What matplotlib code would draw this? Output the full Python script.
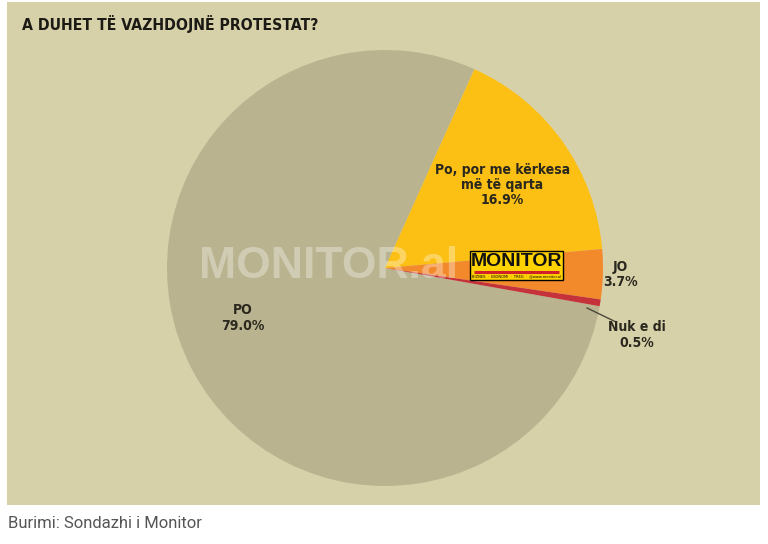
import numpy as np
import matplotlib.pyplot as plt
from matplotlib.patches import Rectangle

# data
categories = ["PO", "Po, por me kërkesa\nmë të qarta", "JO", "Nuk e di"]
values = [79.0, 16.9, 3.7, 0.5]
colors = ["#b9b38f", "#fcc014", "#f2892b", "#c6323a"]

title = "A DUHET TË VAZHDOJNË PROTESTAT?"
source = "Burimi: Sondazhi i Monitor"

BG = "#d7d1aa"
TXT = "#2a281e"
NARROW = ["DejaVu Sans"]

W, H = 768, 544
fig = plt.figure(figsize=(W / 100, H / 100), dpi=100)
fig.patch.set_facecolor("white")
ax = fig.add_axes([0, 0, 1, 1])

# beige panel
ax.add_patch(Rectangle((7, 39), 753, 503, facecolor=BG, edgecolor="none", zorder=0))

cx, cy, r = 385, 276, 218
wedges, _ = ax.pie(values, colors=colors, startangle=-10.1, counterclock=False,
                   center=(cx, cy), radius=r, frame=True,
                   wedgeprops=dict(linewidth=0))
ax.set_xlim(0, W)
ax.set_ylim(0, H)
ax.axis("off")
ax.set_aspect("equal")

# labels at each wedge's mid angle
label_r = [None, 0.66, 1.08, 1.20]
for i, w in enumerate(wedges):
    mid = np.deg2rad((w.theta1 + w.theta2) / 2)
    txt = f"{categories[i]}\n{values[i]:.1f}%"
    if i == 0:
        x, y = 243, 544 - 318
    else:
        x = cx + label_r[i] * r * np.cos(mid)
        y = cy + label_r[i] * r * np.sin(mid)
    if i == 3:
        x, y = 637, 544 - 335
        # leader line
        a0 = np.deg2rad(-11.2)
        ax.plot([cx + 0.945 * r * np.cos(a0), 616], [cy + 0.945 * r * np.sin(a0), 544 - 322],
                color="#4a4838", lw=1.0, zorder=3)
    ax.text(x, y, txt, ha="center", va="center", fontsize=10, color=TXT,
            family=NARROW, fontweight="bold", fontstretch="condensed",
            linespacing=1.1, zorder=4)

# watermark
ax.text(329, 277, "MONITOR.al", ha="center", va="center", fontsize=32,
        family=["Liberation Sans", "DejaVu Sans"], fontweight="bold",
        color="white", alpha=0.33, zorder=5)

# logo box
ax.add_patch(Rectangle((470, 264), 93, 29, facecolor="#ffd200", edgecolor="black",
                       lw=1.0, zorder=6))
ax.text(516.5, 282.5, "MONITOR", ha="center", va="center", fontsize=14,
        family=["Liberation Sans", "DejaVu Sans"], fontweight="bold", color="#111111", zorder=7)
ax.plot([474, 559], [272, 272], color="#d0202a", lw=2.2, zorder=7, solid_capstyle="butt")
ax.text(516.5, 267.5, "BIZNES  ·  EKONOMI  ·  TREG  ·  @www.monitor.al", ha="center",
        va="center", fontsize=2.6, color="black", zorder=7)

# title and source
ax.text(22, 544 - 24, title, ha="left", va="center", fontsize=11.3,
        family=NARROW, fontweight="heavy", fontstretch="condensed",
        color="#1c1a14", zorder=4)
ax.text(8, 544 - 524, source, ha="left", va="center", fontsize=12,
        family=["Roboto", "DejaVu Sans"], color="#555555", zorder=4)

fig.savefig("out.png", dpi=100, facecolor=fig.get_facecolor())
